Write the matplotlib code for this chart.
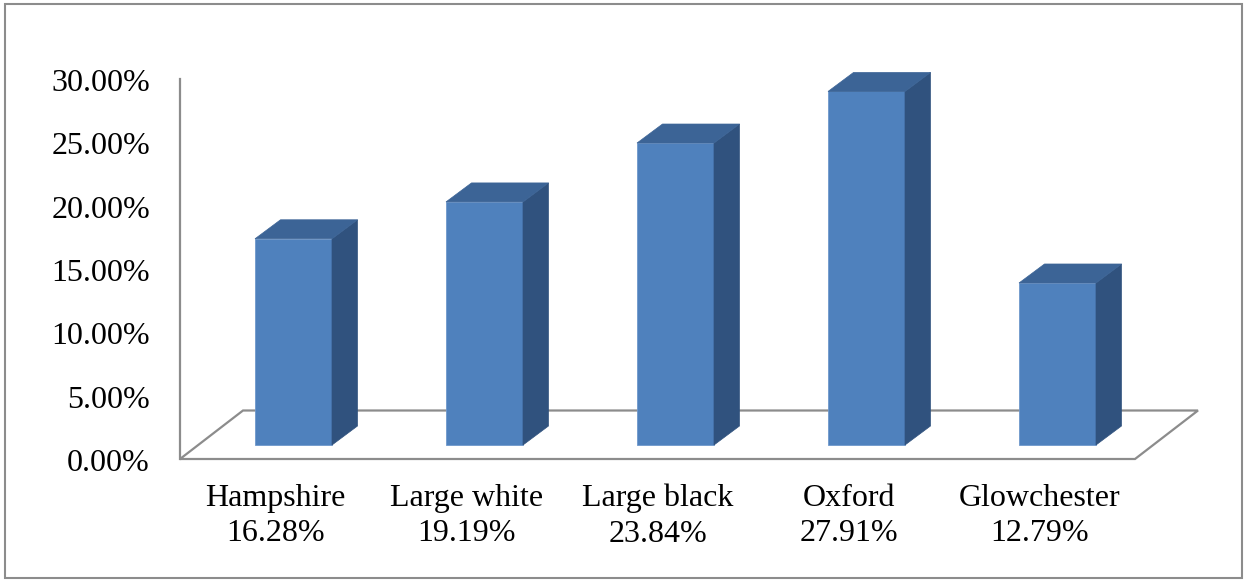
import matplotlib.pyplot as plt
from matplotlib.patches import Polygon, Rectangle

breeds = ["Hampshire", "Large white", "Large black", "Oxford", "Glowchester"]
shares = [16.28, 19.19, 23.84, 27.91, 12.79]
yticks = [0, 5, 10, 15, 20, 25, 30]

front_c = "#4F81BD"
top_c = "#3C6496"
side_c = "#30527E"
line_c = "#8C8C8C"
plt.rcParams["font.family"] = ["Liberation Serif", "DejaVu Serif"]

fig = plt.figure(figsize=(12.47, 5.82), dpi=100)
ax = fig.add_axes([0, 0, 1, 1])
# pixel scale: one category = 191 px, 1% = 12.667 px, origin at (180, 459)
px_x, px_y = 191.0, 12.667
ax.set_xlim(-0.5 - 180 / px_x, -0.5 + (1247 - 180) / px_x)
ax.set_ylim(-(582 - 459) / px_y, 459 / px_y)
ax.axis("off")

n = len(breeds)
fdx, fdy = 63 / px_x, 48.5 / px_y      # floor depth
odx, ody = 18 / px_x, 14 / px_y        # bar front offset into floor
bdx, bdy = 25.5 / px_x, 19 / px_y      # bar depth
w = 77 / px_x

# floor and axis
floor = [(-0.5, 0), (n - 0.5, 0), (n - 0.5 + fdx, fdy), (-0.5 + fdx, fdy)]
ax.add_patch(Polygon(floor, closed=True, fill=False, ec=line_c, lw=1.6, zorder=1))
ax.plot([-0.5, -0.5], [0, yticks[-1]], color=line_c, lw=1.6, zorder=1)

for i, v in enumerate(shares):
    x0 = i - w / 2 + odx
    y0 = ody
    x1 = x0 + w
    y1 = y0 + v
    ax.add_patch(Polygon([(x0, y0), (x1, y0), (x1, y1), (x0, y1)],
                         closed=True, fc=front_c, ec="#6F98CC", lw=0.6, zorder=3))
    ax.add_patch(Polygon([(x1, y0), (x1 + bdx, y0 + bdy), (x1 + bdx, y1 + bdy), (x1, y1)],
                         closed=True, fc=side_c, ec=side_c, lw=0.5, zorder=3))
    ax.add_patch(Polygon([(x0, y1), (x1, y1), (x1 + bdx, y1 + bdy), (x0 + bdx, y1 + bdy)],
                         closed=True, fc=top_c, ec=top_c, lw=0.5, zorder=3))
    ax.text(i, -4.5, "%s\n%.2f%%" % (breeds[i], v), ha="center", va="center",
            fontsize=23, linespacing=1.3)

for t in yticks:
    ax.text(-0.5 - 30 / px_x, t - 0.35, "%.2f%%" % t, ha="right", va="center", fontsize=23)

fig.patches.append(Rectangle((5 / 1247, 4 / 582), 1237 / 1247, 574 / 582,
                             transform=fig.transFigure, fill=False, ec=line_c, lw=1.5))

fig.savefig("out.png", dpi=100)
